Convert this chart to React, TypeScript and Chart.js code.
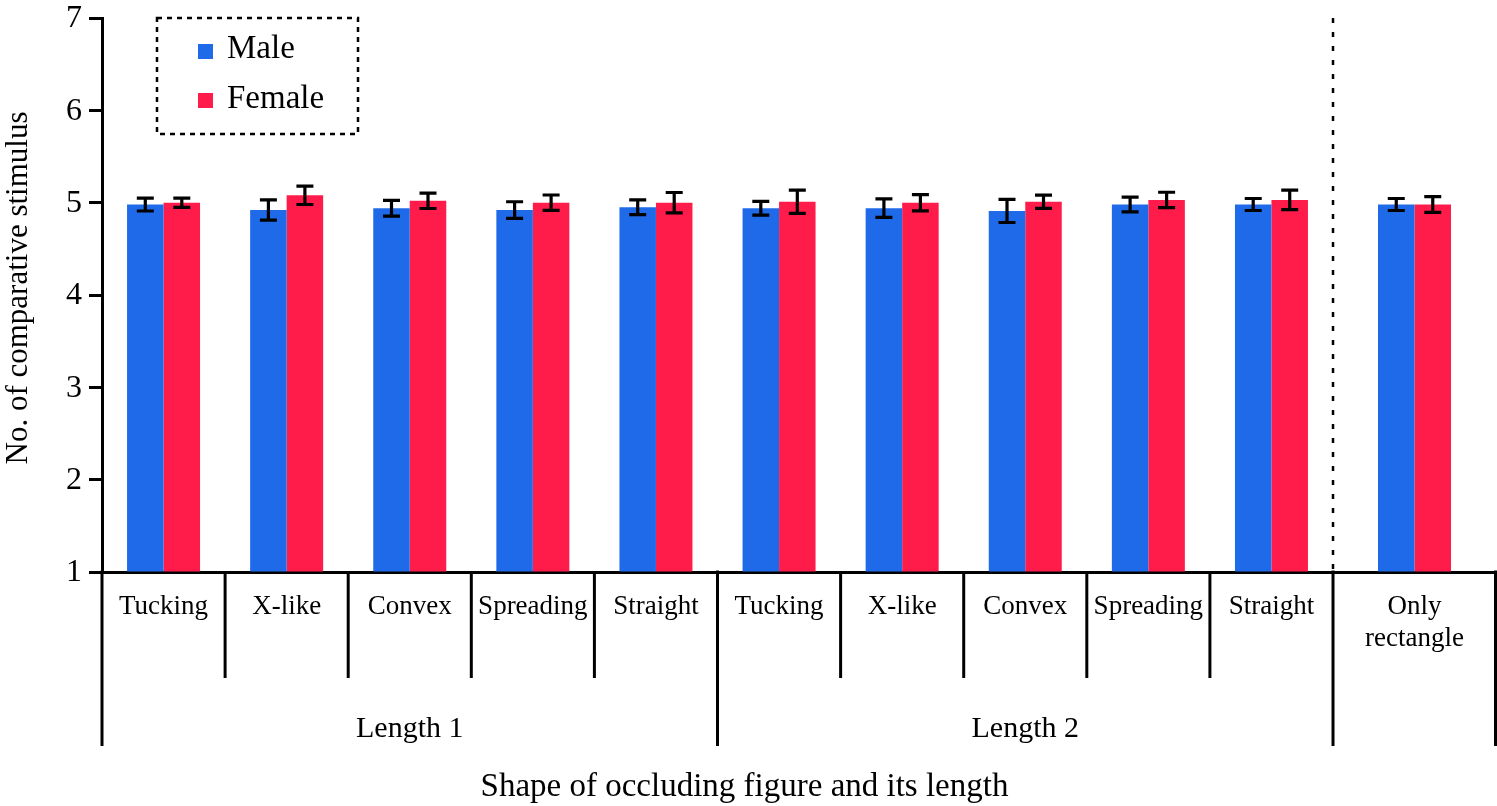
import { useEffect, useRef } from 'react';
import { Chart, registerables } from 'chart.js';
import type { Plugin } from 'chart.js';

Chart.register(...registerables);

const serif = "'Liberation Serif', 'Times New Roman', serif";
Chart.defaults.font.family = serif;
Chart.defaults.color = '#000';

const categories = [
  'Tucking', 'X-like', 'Convex', 'Spreading', 'Straight',
  'Tucking', 'X-like', 'Convex', 'Spreading', 'Straight',
  'Only rectangle',
];
const lengthLabels = ['Length 1', 'Length 2'];
const yTicks = [1, 2, 3, 4, 5, 6, 7];
const maleMeans = [4.98, 4.92, 4.94, 4.92, 4.95, 4.94, 4.94, 4.91, 4.98, 4.98, 4.98];
const maleErr = [0.07, 0.11, 0.085, 0.09, 0.08, 0.075, 0.1, 0.125, 0.08, 0.065, 0.065];
const femaleMeans = [5.0, 5.08, 5.02, 5.0, 5.0, 5.01, 5.0, 5.01, 5.03, 5.03, 4.98];
const femaleErr = [0.05, 0.1, 0.083, 0.083, 0.11, 0.125, 0.088, 0.072, 0.083, 0.105, 0.085];

const BLUE = '#1E6AE8';
const RED = '#FF1C4A';

// the control group ("Only rectangle") sits in a wider slot after the dotted line
const LAST_SLOT = 1.324;
const centers = categories.map((_, i) => (i < 10 ? i + 0.5 : 10 + LAST_SLOT / 2));

const overlay: Plugin<'bar'> = {
  id: 'overlay',
  afterDatasetsDraw(chart) {
    const { ctx, chartArea: area } = chart;
    const xs = chart.scales.x;
    const ys = chart.scales.y;
    const errs = [maleErr, femaleErr];
    ctx.save();
    ctx.strokeStyle = '#000';
    ctx.fillStyle = '#000';

    // error bars
    ctx.lineWidth = 3.2;
    chart.data.datasets.forEach((ds, di) => {
      const meta = chart.getDatasetMeta(di);
      meta.data.forEach((el, i) => {
        const v = (ds.data[i] as any).y as number;
        const t = ys.getPixelForValue(v + errs[di][i]);
        const b = ys.getPixelForValue(v - errs[di][i]);
        const cx = el.x;
        ctx.beginPath();
        ctx.moveTo(cx, t);
        ctx.lineTo(cx, b);
        ctx.moveTo(cx - 8.5, t);
        ctx.lineTo(cx + 8.5, t);
        ctx.moveTo(cx - 8.5, b);
        ctx.lineTo(cx + 8.5, b);
        ctx.stroke();
      });
    });

    // dotted separator before the control group
    const sep = xs.getPixelForValue(10);
    ctx.lineWidth = 2.5;
    ctx.setLineDash([5, 9]);
    ctx.beginPath();
    ctx.moveTo(sep, area.top);
    ctx.lineTo(sep, area.bottom);
    ctx.stroke();
    ctx.setLineDash([]);

    // hierarchical x axis dividers
    ctx.lineWidth = 3;
    const bottom = area.bottom;
    [1, 2, 3, 4, 6, 7, 8, 9].forEach((v) => {
      const px = xs.getPixelForValue(v);
      ctx.beginPath();
      ctx.moveTo(px, bottom);
      ctx.lineTo(px, bottom + 106);
      ctx.stroke();
    });
    [0, 5, 10, 10 + LAST_SLOT].forEach((v) => {
      const px = Math.min(xs.getPixelForValue(v), chart.width - 1.5);
      ctx.beginPath();
      ctx.moveTo(px, bottom - 1.5);
      ctx.lineTo(px, bottom + 174);
      ctx.stroke();
    });

    // y tick labels and title
    ctx.textAlign = 'right';
    ctx.textBaseline = 'middle';
    ctx.font = `32px ${serif}`;
    yTicks.forEach((t) => ctx.fillText(String(t), area.left - 20, ys.getPixelForValue(t) + 1));
    ctx.save();
    ctx.translate(19, (area.top + area.bottom) / 2 - 7);
    ctx.rotate(-Math.PI / 2);
    ctx.textAlign = 'center';
    ctx.font = `31px ${serif}`;
    ctx.fillText('No. of comparative stimulus', 0, 0);
    ctx.restore();

    // category labels
    ctx.textAlign = 'center';
    ctx.textBaseline = 'alphabetic';
    ctx.font = `27px ${serif}`;
    categories.forEach((c, i) => {
      const px = xs.getPixelForValue(centers[i]);
      const words = i < 10 ? [c] : c.split(' ');
      words.forEach((w, k) => ctx.fillText(w, px, bottom + 42 + k * 32));
    });

    // length group labels
    ctx.font = `30px ${serif}`;
    lengthLabels.forEach((l, i) => {
      ctx.fillText(l, xs.getPixelForValue(i * 5 + 2.5), bottom + 165);
    });

    // axis title
    ctx.font = `33px ${serif}`;
    ctx.fillText('Shape of occluding figure and its length', chart.width / 2 - 4, bottom + 224);

    // legend
    const lx = area.left + 55;
    const ly = area.top;
    ctx.lineWidth = 2.5;
    ctx.setLineDash([5, 5]);
    ctx.strokeRect(lx, ly, 201, 116);
    ctx.setLineDash([]);
    ctx.textAlign = 'left';
    ctx.font = `33px ${serif}`;
    chart.data.datasets.forEach((ds, di) => {
      ctx.fillStyle = ds.backgroundColor as string;
      ctx.fillRect(lx + 41, ly + 26 + di * 49, 15, 15);
      ctx.fillStyle = '#000';
      ctx.fillText(ds.label as string, lx + 70, ly + 40 + di * 49.5);
    });
    ctx.restore();
  },
};

export default function App() {
  const canvasRef = useRef<HTMLCanvasElement>(null);
  const chartRef = useRef<Chart | null>(null);

  useEffect(() => {
    document.body.style.margin = '0';
    if (!canvasRef.current) return;
    if (chartRef.current) chartRef.current.destroy();

    chartRef.current = new Chart(canvasRef.current, {
      type: 'bar',
      data: {
        datasets: [
          {
            label: 'Male',
            data: centers.map((x, i) => ({ x, y: maleMeans[i] })),
            backgroundColor: BLUE,
            base: 1,
            categoryPercentage: 0.593,
            barPercentage: 1,
          },
          {
            label: 'Female',
            data: centers.map((x, i) => ({ x, y: femaleMeans[i] })),
            backgroundColor: RED,
            base: 1,
            categoryPercentage: 0.593,
            barPercentage: 1,
          },
        ],
      },
      options: {
        responsive: true,
        maintainAspectRatio: false,
        animation: false,
        layout: { padding: { top: 18, right: 1, left: 0, bottom: 0 } },
        plugins: {
          legend: { display: false },
          tooltip: { enabled: false },
        },
        scales: {
          x: {
            type: 'linear',
            min: 0,
            max: 10 + LAST_SLOT,
            offset: false,
            afterBuildTicks: (s) => {
              s.ticks = centers.map((value) => ({ value }));
            },
            afterFit: (s) => {
              s.height = 234;
              s.paddingLeft = 0;
              s.paddingRight = 0;
            },
            grid: { display: false },
            border: { display: true, color: '#000', width: 3 },
            ticks: { display: false },
          },
          y: {
            min: yTicks[0],
            max: yTicks[yTicks.length - 1],
            beginAtZero: false,
            afterBuildTicks: (s) => {
              s.ticks = yTicks.map((value) => ({ value }));
            },
            afterFit: (s) => {
              s.width = 102;
              s.paddingTop = 0;
              s.paddingBottom = 0;
            },
            ticks: { display: false },
            grid: {
              drawOnChartArea: false,
              drawTicks: true,
              tickLength: 13,
              tickWidth: 3,
              tickColor: '#000',
              color: '#000',
            },
            border: { display: true, color: '#000', width: 3 },
          },
        },
      },
      plugins: [overlay],
    });

    return () => {
      chartRef.current?.destroy();
      chartRef.current = null;
    };
  }, []);

  return (
    <div style={{ position: 'relative', width: 1497, height: 806, background: '#fff' }}>
      <canvas ref={canvasRef} />
    </div>
  );
}
